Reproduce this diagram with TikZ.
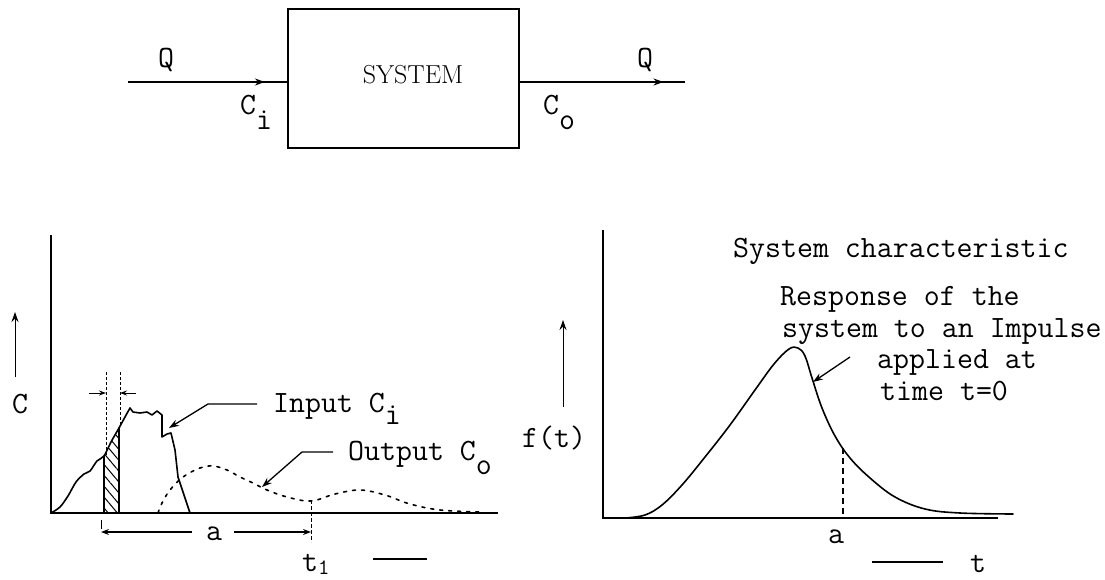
\documentclass[tikz,border=0pt]{standalone}
\usetikzlibrary{arrows.meta,decorations.markings,patterns.meta}
\newcommand\lowsub[2][-14pt]{\raisebox{#1}{#2}}
\tikzset{
  lbl/.style={font=\fontsize{31}{33}\selectfont\ttfamily, inner sep=0pt, anchor=base west},
  axis/.style={line width=2.4pt},
  curve/.style={line width=1.6pt, line join=round, line cap=round},
  dotcurve/.style={line width=1.6pt, dash pattern=on 3pt off 6pt, line cap=round},
  thin/.style={line width=1pt},
  tip/.style={-{Stealth[length=10pt,width=7pt]}},
  midarrow/.style={postaction={decorate},decoration={markings,mark=at position #1 with {\arrow{Stealth[length=10pt,width=7pt]}}}},
}
\begin{document}
\begin{tikzpicture}[x=1pt,y=-1pt]
\useasboundingbox[fill=white] (0,0) rectangle (1105,580);

% ---------- top block ----------
\node[draw, line width=1.6pt, minimum width=231pt, minimum height=139pt, inner sep=0pt] (sys) at (403.5,78.5) {};
\node[font=\fontsize{26}{28}\selectfont\rmfamily, inner sep=0pt, anchor=base] (syslbl) at (413,84) {SYSTEM};
\coordinate (qin) at (128,82);
\coordinate (qout) at (685,82);
\draw[line width=1.6pt, midarrow=0.86] (qin) -- (sys.west |- qin);
\draw[line width=1.6pt, midarrow=0.87] (sys.east |- qout) -- (qout);
\node[lbl] (q1) at (158,68) {Q};
\node[lbl] (q2) at (637,68) {Q};
\node[lbl] (ci) at (240,115) {C\lowsub[-15pt]{i}};
\node[lbl] (co) at (543,115) {C\lowsub[-15pt]{o}};

% ---------- left plot ----------
\coordinate (o1) at (51,513);
\coordinate (ytop1) at (51,235);
\coordinate (xend1) at (498,513);
\draw[axis] (ytop1) -- (o1) -- (xend1);
\coordinate (ca1) at (15,377);
\coordinate (ca2) at (15,312);
\draw[thin, tip] (ca1) -- (ca2);
\node[lbl] (clbl) at (12,413) {C};

% hatched strip
\fill[pattern={Lines[angle=-50,distance=7pt,line width=1pt]}]
  (104,513) -- (104,456) -- (111,442) -- (119,428) -- (119,513) -- cycle;
\draw[curve] (104,513) -- (104,456);
\draw[curve] (119,513) -- (119,428);

% input curve
\draw[curve] plot[smooth,tension=0.5] coordinates {(51,513)(60,507)(68,496)(76,482)(84,474)(90,471)(97,461)(104,456)(111,442)(119,428)(125,417)(130,408)}
  -- (133,412) -- (140,413) -- (147,412) -- (152,415) -- (157,411) -- (162,415) -- (162,437) -- (167,434) -- (171,433) -- (175,450) -- (178,477) -- (183,492) -- (190,513);

% output curve
\draw[dotcurve] plot[smooth,tension=0.6] coordinates {(158,513)(162,503)(170,490)(183,477)(200,468)(213,466)(227,470)(240,477)(253,483)(267,490)(287,497)(311,501)(335,494)(360,490)(385,495)(410,504)(440,510)(480,512)};

% width marks of strip
\coordinate (w1t) at (106,372);
\coordinate (w1b) at (106,455);
\coordinate (w2t) at (120,372);
\coordinate (w2b) at (120,427);
\draw[thin, dash pattern=on 3pt off 2pt] (w1t) -- (w1b);
\draw[thin, dash pattern=on 3pt off 2pt] (w2t) -- (w2b);
\coordinate (wa1) at (89,393);
\coordinate (wa2) at (136,393);
\draw[thin, -{Stealth[length=7pt,width=5pt]}] (wa1) -- (w1t |- wa1);
\draw[thin, -{Stealth[length=7pt,width=5pt]}] (wa2) -- (w2t |- wa2);

% labels input/output
\node[lbl] (inlbl) at (273,412) {Input C\lowsub[-12pt]{i}};
\node[lbl] (outlbl) at (348,460) {Output C\lowsub[-14pt]{o}};
\coordinate (ia) at (257,404);
\coordinate (ib) at (208,404);
\coordinate (ic) at (169,428);
\draw[line width=1.3pt, tip] (ia) -- (ib) -- (ic);
\coordinate (oa) at (333,452);
\coordinate (ob) at (302,452);
\coordinate (oc) at (262,487);
\draw[line width=1.3pt, tip] (oa) -- (ob) -- (oc);

% dimension a and t1
\coordinate (t1top) at (311,500);
\coordinate (t1bot) at (311,542);
\draw[thin, dash pattern=on 4pt off 2pt] (t1top) -- (t1bot);
\coordinate (al) at (101,532);
\coordinate (ar) at (311,532);
\draw[thin] (101,520) -- (101,529);
\node[lbl, anchor=base] (alab) at (214,540) {a};
\coordinate (aw) at (192,532);
\coordinate (ae) at (234,532);
\draw[line width=1.2pt, -{Stealth[length=8pt,width=6pt]}] (aw) -- (al);
\draw[line width=1.2pt, -{Stealth[length=8pt,width=6pt]}] (ae) -- (ar);
\node[lbl] (t1lbl) at (302,571) {t\lowsub[-3pt]{\fontsize{22}{24}\selectfont 1}};
\coordinate (d1) at (373,559);
\coordinate (d2) at (427,559);
\draw[line width=1.2pt] (d1) -- (d2);

% ---------- right plot ----------
\coordinate (o2) at (603,518);
\coordinate (ytop2) at (603,230);
\coordinate (xend2) at (998,518);
\draw[axis] (ytop2) -- (o2) -- (xend2);
\coordinate (fa1) at (563,407);
\coordinate (fa2) at (563,320);
\draw[thin, tip] (fa1) -- (fa2);
\node[lbl] (flbl) at (522,447) {f(t)};

\draw[curve] plot[smooth,tension=0.6] coordinates {(625,518)(645,515)(662,505)(682,485)(705,457)(730,425)(755,390)(774,364)(789,349)(798,348)(805,356)(812,378)(822,408)(835,436)(850,458)(870,478)(895,497)(925,509)(960,513)(1013,514)};
\coordinate (atop) at (843,448);
\draw[line width=1.2pt, dash pattern=on 6pt off 4pt] (atop) -- (atop |- o2);
\node[lbl, anchor=base] (alab2) at (836,543) {a};
\coordinate (td1) at (872,562);
\coordinate (td2) at (943,562);
\draw[line width=1.2pt] (td1) -- (td2);
\node[lbl] (tlbl) at (970,572) {t};

\node[lbl] (title) at (733,257) {System characteristic};
\node[lbl] (r1) at (780,305) {Response of the};
\node[lbl] (r2) at (782,337) {system to an Impulse};
\node[lbl] (r3) at (877,368) {applied at};
\node[lbl] (r4) at (880,400) {time t=0};
\coordinate (ra) at (850,357);
\coordinate (rb) at (813,382);
\draw[line width=1.3pt, tip] (ra) -- (rb);
\end{tikzpicture}
\end{document}
